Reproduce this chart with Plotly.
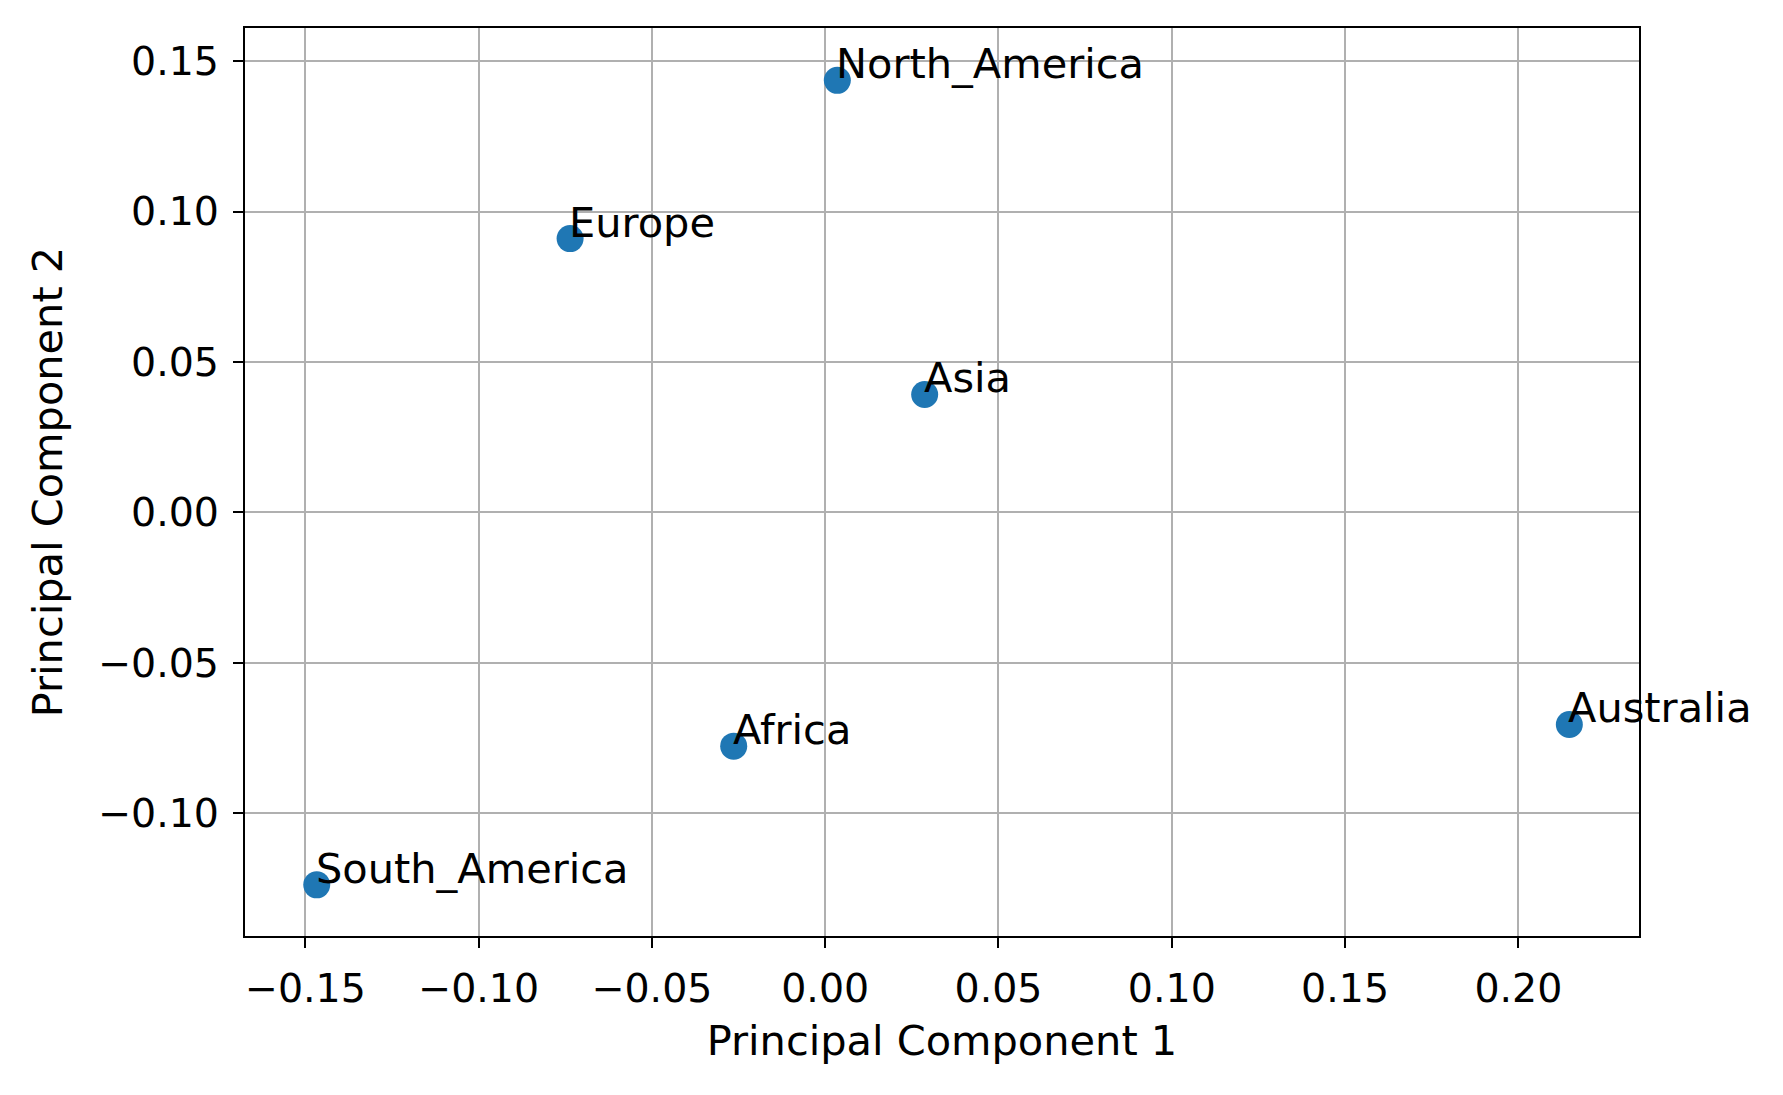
import plotly.graph_objects as go

# PCA scores
regions = ["North_America", "Europe", "Asia", "Australia", "Africa", "South_America"]
pc1 = [0.0035, -0.0736, 0.0287, 0.2147, -0.0264, -0.1467]
pc2 = [0.1436, 0.0910, 0.0392, -0.0705, -0.0777, -0.1238]

x_ticks = [-0.15, -0.10, -0.05, 0.00, 0.05, 0.10, 0.15, 0.20]
y_ticks = [-0.10, -0.05, 0.00, 0.05, 0.10, 0.15]

FONT = "DejaVu Sans"
FS = 41.5
TICK_FS = 39.5

fig = go.Figure()
fig.add_trace(go.Scatter(
    x=pc1, y=pc2, mode="markers",
    marker=dict(color="#1f77b4", size=27, line=dict(width=0)),
    showlegend=False, cliponaxis=False,
))

# labels sit at the point, left-aligned, baseline on the point (like ax.text)
for name, x, y in zip(regions, pc1, pc2):
    fig.add_annotation(
        x=x, y=y, text=name, showarrow=False,
        xanchor="left", yanchor="bottom", yshift=-10, xshift=-3,
        font=dict(family=FONT, size=FS, color="black"),
    )

axis_common = dict(
    showline=True, linecolor="black", linewidth=2.2, mirror=True,
    showgrid=True, gridcolor="#b0b0b0", gridwidth=2.2,
    zeroline=False, ticks="outside", ticklen=10, tickwidth=2.2,
    tickcolor="black", tickformat=".2f", ticklabelstandoff=6,
    tickfont=dict(family=FONT, size=TICK_FS, color="black"),
)

fig.update_layout(
    width=1783, height=1095,
    paper_bgcolor="white", plot_bgcolor="white",
    margin=dict(l=237, r=152, t=20, b=167),
    font=dict(family=FONT, size=FS, color="black"),
    xaxis=dict(
        range=[-0.1674, 0.2348], tickvals=x_ticks,
        title=dict(text="Principal Component 1", font=dict(family=FONT, size=FS), standoff=16),
        **axis_common,
    ),
    yaxis=dict(
        range=[-0.1408, 0.161], tickvals=y_ticks,
        title=dict(text="Principal Component 2", font=dict(family=FONT, size=FS), standoff=22),
        **axis_common,
    ),
)

fig.write_html("out.html")
